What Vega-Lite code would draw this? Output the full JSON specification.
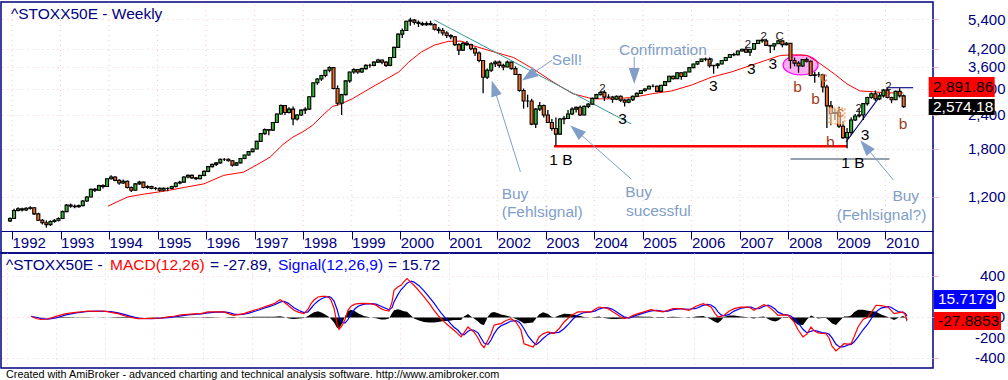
{
"$schema":"https://vega.github.io/schema/vega-lite/v6.json",
"padding":0,
"background":"#ffffff",
"spacing":0,
"bounds":"flush",
"config":{"font":"Liberation Sans","view":{"stroke":"#000080","strokeWidth":1.5},"axis":{"labelFont":"Liberation Sans","titleFont":"Liberation Sans","labelOverlap":false,"labelSeparation":0},"text":{"font":"Liberation Sans"}},
"datasets":{
"years":[{"t":1992},{"t":1993},{"t":1994},{"t":1995},{"t":1996},{"t":1997},{"t":1998},{"t":1999},{"t":2000},{"t":2001},{"t":2002},{"t":2003},{"t":2004},{"t":2005},{"t":2006},{"t":2007},{"t":2008},{"t":2009},{"t":2010}],
"px":[
{"t":1991.958,"o":980,"h":1010,"l":970,"c":1000},
{"t":1992.042,"o":1000,"h":1085,"l":995,"c":1070},
{"t":1992.125,"o":1070,"h":1100,"l":1060,"c":1085},
{"t":1992.208,"o":1085,"h":1095,"l":1060,"c":1075},
{"t":1992.292,"o":1075,"h":1100,"l":1065,"c":1090},
{"t":1992.375,"o":1090,"h":1110,"l":1080,"c":1095},
{"t":1992.458,"o":1095,"h":1100,"l":1030,"c":1040},
{"t":1992.542,"o":1040,"h":1050,"l":980,"c":985},
{"t":1992.625,"o":985,"h":995,"l":950,"c":965},
{"t":1992.708,"o":965,"h":985,"l":925,"c":950},
{"t":1992.792,"o":950,"h":985,"l":940,"c":975},
{"t":1992.875,"o":975,"h":995,"l":965,"c":985},
{"t":1992.958,"o":985,"h":1010,"l":975,"c":1000},
{"t":1993.042,"o":1000,"h":1070,"l":995,"c":1060},
{"t":1993.125,"o":1060,"h":1130,"l":1055,"c":1120},
{"t":1993.208,"o":1120,"h":1135,"l":1095,"c":1110},
{"t":1993.292,"o":1110,"h":1125,"l":1090,"c":1105},
{"t":1993.375,"o":1105,"h":1125,"l":1095,"c":1115},
{"t":1993.458,"o":1115,"h":1170,"l":1110,"c":1160},
{"t":1993.542,"o":1160,"h":1210,"l":1150,"c":1200},
{"t":1993.625,"o":1200,"h":1290,"l":1195,"c":1280},
{"t":1993.708,"o":1280,"h":1295,"l":1250,"c":1270},
{"t":1993.792,"o":1270,"h":1330,"l":1265,"c":1320},
{"t":1993.875,"o":1320,"h":1335,"l":1290,"c":1310},
{"t":1993.958,"o":1310,"h":1405,"l":1305,"c":1400},
{"t":1994.042,"o":1400,"h":1440,"l":1390,"c":1420},
{"t":1994.125,"o":1420,"h":1430,"l":1370,"c":1380},
{"t":1994.208,"o":1380,"h":1395,"l":1330,"c":1350},
{"t":1994.292,"o":1350,"h":1390,"l":1340,"c":1370},
{"t":1994.375,"o":1370,"h":1380,"l":1290,"c":1300},
{"t":1994.458,"o":1300,"h":1310,"l":1250,"c":1270},
{"t":1994.542,"o":1270,"h":1350,"l":1265,"c":1340},
{"t":1994.625,"o":1340,"h":1375,"l":1330,"c":1360},
{"t":1994.708,"o":1360,"h":1365,"l":1290,"c":1300},
{"t":1994.792,"o":1300,"h":1325,"l":1285,"c":1310},
{"t":1994.875,"o":1310,"h":1320,"l":1280,"c":1290},
{"t":1994.958,"o":1290,"h":1305,"l":1270,"c":1290},
{"t":1995.042,"o":1290,"h":1300,"l":1255,"c":1270},
{"t":1995.125,"o":1270,"h":1300,"l":1260,"c":1290},
{"t":1995.208,"o":1290,"h":1300,"l":1260,"c":1290},
{"t":1995.292,"o":1290,"h":1320,"l":1280,"c":1310},
{"t":1995.375,"o":1310,"h":1360,"l":1300,"c":1350},
{"t":1995.458,"o":1350,"h":1375,"l":1335,"c":1360},
{"t":1995.542,"o":1360,"h":1430,"l":1355,"c":1420},
{"t":1995.625,"o":1420,"h":1450,"l":1405,"c":1440},
{"t":1995.708,"o":1440,"h":1450,"l":1400,"c":1410},
{"t":1995.792,"o":1410,"h":1420,"l":1385,"c":1400},
{"t":1995.875,"o":1400,"h":1445,"l":1395,"c":1440},
{"t":1995.958,"o":1440,"h":1500,"l":1430,"c":1490},
{"t":1996.042,"o":1490,"h":1560,"l":1480,"c":1550},
{"t":1996.125,"o":1550,"h":1590,"l":1540,"c":1580},
{"t":1996.208,"o":1580,"h":1610,"l":1560,"c":1600},
{"t":1996.292,"o":1600,"h":1660,"l":1590,"c":1650},
{"t":1996.375,"o":1650,"h":1665,"l":1625,"c":1650},
{"t":1996.458,"o":1650,"h":1660,"l":1620,"c":1630},
{"t":1996.542,"o":1630,"h":1640,"l":1550,"c":1570},
{"t":1996.625,"o":1570,"h":1610,"l":1560,"c":1600},
{"t":1996.708,"o":1600,"h":1670,"l":1595,"c":1660},
{"t":1996.792,"o":1660,"h":1715,"l":1650,"c":1710},
{"t":1996.875,"o":1710,"h":1770,"l":1700,"c":1760},
{"t":1996.958,"o":1760,"h":1810,"l":1750,"c":1800},
{"t":1997.042,"o":1800,"h":1930,"l":1795,"c":1920},
{"t":1997.125,"o":1920,"h":2060,"l":1910,"c":2050},
{"t":1997.208,"o":2050,"h":2140,"l":2030,"c":2120},
{"t":1997.292,"o":2120,"h":2130,"l":2020,"c":2110},
{"t":1997.375,"o":2110,"h":2260,"l":2100,"c":2250},
{"t":1997.458,"o":2250,"h":2430,"l":2240,"c":2420},
{"t":1997.542,"o":2420,"h":2620,"l":2410,"c":2600},
{"t":1997.625,"o":2600,"h":2610,"l":2400,"c":2450},
{"t":1997.708,"o":2450,"h":2560,"l":2430,"c":2520},
{"t":1997.792,"o":2520,"h":2580,"l":2200,"c":2320},
{"t":1997.875,"o":2320,"h":2420,"l":2290,"c":2400},
{"t":1997.958,"o":2400,"h":2520,"l":2380,"c":2500},
{"t":1998.042,"o":2500,"h":2560,"l":2420,"c":2520},
{"t":1998.125,"o":2520,"h":2810,"l":2510,"c":2800},
{"t":1998.208,"o":2800,"h":3160,"l":2790,"c":3150},
{"t":1998.292,"o":3150,"h":3270,"l":3100,"c":3250},
{"t":1998.375,"o":3250,"h":3370,"l":3200,"c":3350},
{"t":1998.458,"o":3350,"h":3510,"l":3300,"c":3500},
{"t":1998.542,"o":3500,"h":3620,"l":3440,"c":3580},
{"t":1998.625,"o":3580,"h":3600,"l":2980,"c":3000},
{"t":1998.708,"o":3000,"h":3080,"l":2600,"c":2650},
{"t":1998.792,"o":2650,"h":2870,"l":2400,"c":2850},
{"t":1998.875,"o":2850,"h":3220,"l":2830,"c":3200},
{"t":1998.958,"o":3200,"h":3460,"l":3150,"c":3450},
{"t":1999.042,"o":3450,"h":3560,"l":3400,"c":3520},
{"t":1999.125,"o":3520,"h":3540,"l":3400,"c":3450},
{"t":1999.208,"o":3450,"h":3580,"l":3420,"c":3550},
{"t":1999.292,"o":3550,"h":3680,"l":3520,"c":3650},
{"t":1999.375,"o":3650,"h":3700,"l":3580,"c":3650},
{"t":1999.458,"o":3650,"h":3780,"l":3620,"c":3750},
{"t":1999.542,"o":3750,"h":3860,"l":3720,"c":3820},
{"t":1999.625,"o":3820,"h":3830,"l":3680,"c":3750},
{"t":1999.708,"o":3750,"h":3780,"l":3600,"c":3650},
{"t":1999.792,"o":3650,"h":3920,"l":3620,"c":3900},
{"t":1999.875,"o":3900,"h":4270,"l":3880,"c":4250},
{"t":1999.958,"o":4250,"h":4780,"l":4240,"c":4750},
{"t":2000.042,"o":4750,"h":4980,"l":4600,"c":4900},
{"t":2000.125,"o":4900,"h":5320,"l":4880,"c":5300},
{"t":2000.208,"o":5300,"h":5460,"l":5100,"c":5350},
{"t":2000.292,"o":5350,"h":5400,"l":5150,"c":5250},
{"t":2000.375,"o":5250,"h":5330,"l":5050,"c":5200},
{"t":2000.458,"o":5200,"h":5280,"l":5100,"c":5150},
{"t":2000.542,"o":5150,"h":5290,"l":5100,"c":5200},
{"t":2000.625,"o":5200,"h":5320,"l":5120,"c":5150},
{"t":2000.708,"o":5150,"h":5200,"l":4900,"c":4950},
{"t":2000.792,"o":4950,"h":5050,"l":4780,"c":4900},
{"t":2000.875,"o":4900,"h":5000,"l":4700,"c":4800},
{"t":2000.958,"o":4800,"h":4870,"l":4600,"c":4700},
{"t":2001.042,"o":4700,"h":4750,"l":4550,"c":4650},
{"t":2001.125,"o":4650,"h":4680,"l":4300,"c":4350},
{"t":2001.208,"o":4350,"h":4400,"l":3980,"c":4150},
{"t":2001.292,"o":4150,"h":4460,"l":4120,"c":4400},
{"t":2001.375,"o":4400,"h":4480,"l":4300,"c":4350},
{"t":2001.458,"o":4350,"h":4380,"l":4150,"c":4200},
{"t":2001.542,"o":4200,"h":4250,"l":3950,"c":4050},
{"t":2001.625,"o":4050,"h":4100,"l":3750,"c":3800},
{"t":2001.708,"o":3800,"h":3820,"l":2880,"c":3300},
{"t":2001.792,"o":3300,"h":3550,"l":3250,"c":3500},
{"t":2001.875,"o":3500,"h":3750,"l":3450,"c":3700},
{"t":2001.958,"o":3700,"h":3800,"l":3600,"c":3750},
{"t":2002.042,"o":3750,"h":3800,"l":3580,"c":3650},
{"t":2002.125,"o":3650,"h":3700,"l":3500,"c":3600},
{"t":2002.208,"o":3600,"h":3800,"l":3590,"c":3750},
{"t":2002.292,"o":3750,"h":3760,"l":3520,"c":3550},
{"t":2002.375,"o":3550,"h":3620,"l":3370,"c":3380},
{"t":2002.458,"o":3380,"h":3400,"l":2920,"c":2950},
{"t":2002.542,"o":2950,"h":3000,"l":2530,"c":2700},
{"t":2002.625,"o":2700,"h":2850,"l":2560,"c":2700},
{"t":2002.708,"o":2700,"h":2750,"l":2200,"c":2220},
{"t":2002.792,"o":2220,"h":2540,"l":2150,"c":2520},
{"t":2002.875,"o":2520,"h":2680,"l":2480,"c":2600},
{"t":2002.958,"o":2600,"h":2620,"l":2350,"c":2400},
{"t":2003.042,"o":2400,"h":2500,"l":2240,"c":2250},
{"t":2003.125,"o":2250,"h":2320,"l":2100,"c":2140},
{"t":2003.208,"o":2140,"h":2350,"l":1850,"c":2040},
{"t":2003.292,"o":2040,"h":2340,"l":2030,"c":2320},
{"t":2003.375,"o":2320,"h":2380,"l":2220,"c":2330},
{"t":2003.458,"o":2330,"h":2500,"l":2320,"c":2420},
{"t":2003.542,"o":2420,"h":2560,"l":2400,"c":2520},
{"t":2003.625,"o":2520,"h":2580,"l":2450,"c":2560},
{"t":2003.708,"o":2560,"h":2600,"l":2380,"c":2400},
{"t":2003.792,"o":2400,"h":2600,"l":2390,"c":2580},
{"t":2003.875,"o":2580,"h":2650,"l":2540,"c":2630},
{"t":2003.958,"o":2630,"h":2780,"l":2620,"c":2760},
{"t":2004.042,"o":2760,"h":2870,"l":2750,"c":2850},
{"t":2004.125,"o":2850,"h":2930,"l":2830,"c":2900},
{"t":2004.208,"o":2900,"h":2960,"l":2700,"c":2790},
{"t":2004.292,"o":2790,"h":2860,"l":2760,"c":2790},
{"t":2004.375,"o":2790,"h":2820,"l":2660,"c":2740},
{"t":2004.458,"o":2740,"h":2830,"l":2720,"c":2810},
{"t":2004.542,"o":2810,"h":2830,"l":2680,"c":2720},
{"t":2004.625,"o":2720,"h":2740,"l":2580,"c":2670},
{"t":2004.708,"o":2670,"h":2760,"l":2650,"c":2730},
{"t":2004.792,"o":2730,"h":2830,"l":2700,"c":2810},
{"t":2004.875,"o":2810,"h":2900,"l":2800,"c":2880},
{"t":2004.958,"o":2880,"h":2960,"l":2870,"c":2950},
{"t":2005.042,"o":2950,"h":3010,"l":2920,"c":2990},
{"t":2005.125,"o":2990,"h":3080,"l":2980,"c":3060},
{"t":2005.208,"o":3060,"h":3110,"l":3030,"c":3060},
{"t":2005.292,"o":3060,"h":3080,"l":2910,"c":2930},
{"t":2005.375,"o":2930,"h":3090,"l":2920,"c":3080},
{"t":2005.458,"o":3080,"h":3190,"l":3070,"c":3180},
{"t":2005.542,"o":3180,"h":3340,"l":3170,"c":3330},
{"t":2005.625,"o":3330,"h":3350,"l":3240,"c":3260},
{"t":2005.708,"o":3260,"h":3440,"l":3250,"c":3430},
{"t":2005.792,"o":3430,"h":3450,"l":3230,"c":3320},
{"t":2005.875,"o":3320,"h":3460,"l":3310,"c":3450},
{"t":2005.958,"o":3450,"h":3600,"l":3440,"c":3580},
{"t":2006.042,"o":3580,"h":3700,"l":3560,"c":3690},
{"t":2006.125,"o":3690,"h":3780,"l":3660,"c":3770},
{"t":2006.208,"o":3770,"h":3860,"l":3750,"c":3850},
{"t":2006.292,"o":3850,"h":3900,"l":3780,"c":3840},
{"t":2006.375,"o":3840,"h":3900,"l":3580,"c":3640},
{"t":2006.458,"o":3640,"h":3660,"l":3400,"c":3650},
{"t":2006.542,"o":3650,"h":3720,"l":3550,"c":3690},
{"t":2006.625,"o":3690,"h":3810,"l":3680,"c":3800},
{"t":2006.708,"o":3800,"h":3910,"l":3780,"c":3900},
{"t":2006.792,"o":3900,"h":4010,"l":3880,"c":4000},
{"t":2006.875,"o":4000,"h":4060,"l":3940,"c":3990},
{"t":2006.958,"o":3990,"h":4130,"l":3970,"c":4120},
{"t":2007.042,"o":4120,"h":4200,"l":4100,"c":4180},
{"t":2007.125,"o":4180,"h":4280,"l":4060,"c":4080},
{"t":2007.208,"o":4080,"h":4190,"l":3950,"c":4180},
{"t":2007.292,"o":4180,"h":4400,"l":4170,"c":4390},
{"t":2007.375,"o":4390,"h":4520,"l":4380,"c":4510},
{"t":2007.458,"o":4510,"h":4560,"l":4420,"c":4490},
{"t":2007.542,"o":4490,"h":4570,"l":4300,"c":4320},
{"t":2007.625,"o":4320,"h":4330,"l":4050,"c":4300},
{"t":2007.708,"o":4300,"h":4400,"l":4150,"c":4380},
{"t":2007.792,"o":4380,"h":4520,"l":4370,"c":4490},
{"t":2007.875,"o":4490,"h":4500,"l":4250,"c":4350},
{"t":2007.958,"o":4350,"h":4450,"l":4320,"c":4400},
{"t":2008.042,"o":4400,"h":4410,"l":3550,"c":3800},
{"t":2008.125,"o":3800,"h":3900,"l":3620,"c":3720},
{"t":2008.208,"o":3720,"h":3780,"l":3430,"c":3630},
{"t":2008.292,"o":3630,"h":3850,"l":3600,"c":3830},
{"t":2008.375,"o":3830,"h":3900,"l":3740,"c":3780},
{"t":2008.458,"o":3780,"h":3800,"l":3330,"c":3350},
{"t":2008.542,"o":3350,"h":3450,"l":3150,"c":3370},
{"t":2008.625,"o":3370,"h":3450,"l":3300,"c":3370},
{"t":2008.708,"o":3370,"h":3400,"l":2900,"c":3040},
{"t":2008.792,"o":3040,"h":3100,"l":2150,"c":2590},
{"t":2008.875,"o":2590,"h":2700,"l":2200,"c":2430},
{"t":2008.958,"o":2430,"h":2530,"l":2300,"c":2450},
{"t":2009.042,"o":2450,"h":2570,"l":2150,"c":2180},
{"t":2009.125,"o":2180,"h":2280,"l":1960,"c":1980},
{"t":2009.208,"o":1980,"h":2150,"l":1810,"c":2070},
{"t":2009.292,"o":2070,"h":2350,"l":2020,"c":2300},
{"t":2009.375,"o":2300,"h":2420,"l":2280,"c":2380},
{"t":2009.458,"o":2380,"h":2540,"l":2350,"c":2400},
{"t":2009.542,"o":2400,"h":2650,"l":2300,"c":2640},
{"t":2009.625,"o":2640,"h":2800,"l":2600,"c":2780},
{"t":2009.708,"o":2780,"h":2900,"l":2750,"c":2870},
{"t":2009.792,"o":2870,"h":2950,"l":2700,"c":2750},
{"t":2009.875,"o":2750,"h":2890,"l":2720,"c":2820},
{"t":2009.958,"o":2820,"h":2990,"l":2780,"c":2960},
{"t":2010.042,"o":2960,"h":3020,"l":2760,"c":2780},
{"t":2010.125,"o":2780,"h":2800,"l":2650,"c":2730},
{"t":2010.208,"o":2730,"h":2950,"l":2720,"c":2930},
{"t":2010.292,"o":2930,"h":3010,"l":2780,"c":2820},
{"t":2010.375,"o":2820,"h":2850,"l":2550,"c":2574.18}
],
"ma":[
{"t":1993.976,"p":1110},{"t":1994.384,"p":1200},{"t":1994.730,"p":1230},{"t":1995.138,"p":1260},{"t":1995.546,"p":1300},{"t":1995.953,"p":1340},{"t":1996.361,"p":1440},{"t":1996.769,"p":1480},{"t":1997.034,"p":1570},{"t":1997.319,"p":1680},{"t":1997.584,"p":1870},{"t":1997.788,"p":1990},{"t":1997.992,"p":2080},{"t":1998.196,"p":2200},{"t":1998.400,"p":2390},{"t":1998.604,"p":2580},{"t":1998.746,"p":2620},{"t":1999.011,"p":2750},{"t":1999.358,"p":2990},{"t":1999.684,"p":3230},{"t":1999.970,"p":3450},{"t":2000.174,"p":3750},{"t":2000.439,"p":4090},{"t":2000.704,"p":4330},{"t":2000.989,"p":4470},{"t":2001.254,"p":4480},{"t":2001.519,"p":4300},{"t":2001.927,"p":4090},{"t":2002.335,"p":3900},{"t":2002.742,"p":3540},{"t":2003.150,"p":3170},{"t":2003.558,"p":2870},{"t":2003.965,"p":2750},{"t":2004.373,"p":2750},{"t":2004.781,"p":2780},{"t":2005.189,"p":2870},{"t":2005.596,"p":2940},{"t":2006.004,"p":3090},{"t":2006.412,"p":3300},{"t":2006.820,"p":3450},{"t":2007.227,"p":3650},{"t":2007.574,"p":3830},{"t":2007.839,"p":3970},{"t":2008.124,"p":3990},{"t":2008.389,"p":3970},{"t":2008.655,"p":3700},{"t":2008.940,"p":3400},{"t":2009.205,"p":3120},{"t":2009.470,"p":2940},{"t":2009.755,"p":2920},{"t":2010.020,"p":2890},{"t":2010.367,"p":2891.86}
],
"arrows":[
{"name":"bf","t":2002.477,"p":1482,"t2":2001.947,"p2":2963},
{"name":"bs","t":2004.761,"p":1396,"t2":2003.660,"p2":2078},
{"name":"bq","t":2010.163,"p":1385,"t2":2009.613,"p2":1815},
{"name":"sell","t":2003.130,"p":3818,"t2":2002.681,"p2":3364},
{"name":"conf","t":2004.822,"p":3917,"t2":2004.822,"p2":3392}
],
"notes":[
{"t":2005.413,"p":4155,"text":"Confirmation","kind":"comment"},
{"t":2003.435,"p":3818,"text":"Sell!","kind":"comment"},
{"t":2002.365,"p":1235,"text":"Buy","kind":"comment"},
{"t":2002.926,"p":1056,"text":"(Fehlsignal)","kind":"comment"},
{"t":2004.913,"p":1251,"text":"Buy","kind":"comment"},
{"t":2005.321,"p":1065,"text":"sucessful","kind":"comment"},
{"t":2010.418,"p":1210,"text":"Buy","kind":"comment"},
{"t":2009.918,"p":1030,"text":"(Fehlsignal?)","kind":"comment"},
{"t":2003.313,"p":1646,"text":"1 B","kind":"wave"},
{"t":2009.327,"p":1599,"text":"1 B","kind":"wave"},
{"t":2004.583,"p":2325,"text":"3","kind":"wave"},
{"t":2006.453,"p":3065,"text":"3","kind":"wave"},
{"t":2007.234,"p":3548,"text":"3","kind":"wave"},
{"t":2007.676,"p":3701,"text":"3","kind":"wave"},
{"t":2009.578,"p":2021,"text":"3","kind":"wave"},
{"t":2008.186,"p":3039,"text":"b","kind":"b"},
{"t":2008.559,"p":2753,"text":"b","kind":"b"},
{"t":2008.865,"p":1909,"text":"b","kind":"b"},
{"t":2010.361,"p":2229,"text":"b","kind":"b"},
{"t":2008.730,"p":3307,"text":"c","kind":"c"},
{"t":2009.069,"p":2460,"text":"c","kind":"c"},
{"t":2004.169,"p":2988,"text":"2","kind":"minor"},
{"t":2006.392,"p":3723,"text":"2","kind":"minor"},
{"t":2007.166,"p":4335,"text":"2","kind":"minor"},
{"t":2007.492,"p":4638,"text":"2","kind":"minor"},
{"t":2007.819,"p":4638,"text":"C","kind":"minor"},
{"t":2009.450,"p":2524,"text":"2","kind":"minor"},
{"t":2010.061,"p":3039,"text":"2","kind":"minor"}
],
"last":[{"s":"MA","v":2891.86,"label":"2,891.86"},{"s":"Close","v":2574.18,"label":"2,574.18"}],
"mlast":[{"s":"Signal","v":15.7179,"label":"15.7179"},{"s":"MACD","v":-27.8853,"label":"-27.8853"}],
"mticks":[{"v":400,"label":"400"},{"v":200,"label":"200"},{"v":0,"label":"0"},{"v":-200,"label":"-200"},{"v":-400,"label":"-400"}],
"mtitle":[
{"t":1991.978,"v":460,"text":"^STOXX50E - ","seg":"a"},
{"t":1994.098,"v":460,"text":"MACD(12,26)","seg":"b"},
{"t":1996.137,"v":460,"text":"= -27.89,","seg":"c"},
{"t":1997.523,"v":460,"text":"Signal(12,26,9)","seg":"d"},
{"t":1999.766,"v":460,"text":"= 15.72","seg":"e"}
],
"footer":[{"t":1991.978,"v":-561,"text":"Created with AmiBroker - advanced charting and technical analysis software. http://www.amibroker.com"}],
"macd":[
{"t":1992.488,"m":12,"s":12,"h":0},{"t":1992.590,"m":-10,"s":2,"h":-3},{"t":1992.691,"m":-20,"s":-10,"h":-3},{"t":1992.834,"m":-15,"s":-17,"h":0},{"t":1992.997,"m":10,"s":-5,"h":4},{"t":1993.201,"m":37,"s":25,"h":5},{"t":1993.405,"m":50,"s":45,"h":3},{"t":1993.650,"m":63,"s":58,"h":2},{"t":1993.813,"m":60,"s":62,"h":0},{"t":1993.976,"m":63,"s":60,"h":1},
{"t":1994.119,"m":50,"s":57,"h":-3},{"t":1994.261,"m":37,"s":45,"h":-4},{"t":1994.404,"m":15,"s":28,"h":-5},{"t":1994.526,"m":0,"s":10,"h":-4},{"t":1994.669,"m":-12,"s":-5,"h":-3},{"t":1994.791,"m":-12,"s":-10,"h":-1},{"t":1994.934,"m":-8,"s":-11,"h":1},{"t":1995.138,"m":-5,"s":-7,"h":1},{"t":1995.281,"m":5,"s":-2,"h":3},{"t":1995.403,"m":12,"s":6,"h":3},
{"t":1995.546,"m":25,"s":16,"h":4},{"t":1995.688,"m":31,"s":26,"h":3},{"t":1995.811,"m":35,"s":31,"h":2},{"t":1995.953,"m":37,"s":35,"h":1},{"t":1996.096,"m":54,"s":44,"h":4},{"t":1996.259,"m":54,"s":52,"h":1},{"t":1996.422,"m":54,"s":54,"h":0},{"t":1996.524,"m":35,"s":48,"h":-5},{"t":1996.626,"m":21,"s":33,"h":-6},{"t":1996.728,"m":30,"s":27,"h":1},
{"t":1996.830,"m":37,"s":32,"h":2},{"t":1996.932,"m":55,"s":42,"h":5},{"t":1997.034,"m":70,"s":58,"h":6},{"t":1997.136,"m":85,"s":73,"h":6},{"t":1997.238,"m":102,"s":90,"h":6},{"t":1997.340,"m":118,"s":106,"h":6},{"t":1997.442,"m":135,"s":122,"h":7},{"t":1997.564,"m":174,"s":150,"h":12},{"t":1997.646,"m":150,"s":158,"h":4},{"t":1997.727,"m":119,"s":140,"h":-8},
{"t":1997.788,"m":95,"s":118,"h":-12},{"t":1997.849,"m":70,"s":95,"h":-15},{"t":1997.951,"m":50,"s":68,"h":-10},{"t":1998.053,"m":37,"s":48,"h":-6},{"t":1998.135,"m":80,"s":55,"h":15},{"t":1998.196,"m":135,"s":90,"h":35},{"t":1998.257,"m":170,"s":125,"h":50},{"t":1998.339,"m":200,"s":160,"h":60},{"t":1998.420,"m":205,"s":185,"h":45},{"t":1998.502,"m":207,"s":200,"h":25},
{"t":1998.563,"m":195,"s":203,"h":5},{"t":1998.604,"m":168,"s":195,"h":-15},{"t":1998.665,"m":90,"s":160,"h":-50},{"t":1998.726,"m":-60,"s":80,"h":-100},{"t":1998.767,"m":-115,"s":10,"h":-109},{"t":1998.828,"m":-80,"s":-45,"h":-60},{"t":1998.889,"m":-20,"s":-55,"h":10},{"t":1998.950,"m":70,"s":-20,"h":60},{"t":1999.011,"m":110,"s":35,"h":76},{"t":1999.093,"m":130,"s":85,"h":60},
{"t":1999.154,"m":135,"s":110,"h":40},{"t":1999.276,"m":138,"s":130,"h":15},{"t":1999.419,"m":135,"s":136,"h":0},{"t":1999.521,"m":120,"s":130,"h":-8},{"t":1999.623,"m":86,"s":110,"h":-20},{"t":1999.705,"m":70,"s":92,"h":-20},{"t":1999.786,"m":63,"s":75,"h":-10},{"t":1999.847,"m":150,"s":95,"h":40},{"t":1999.888,"m":265,"s":150,"h":70},{"t":1999.970,"m":300,"s":225,"h":79},
{"t":2000.031,"m":314,"s":270,"h":70},{"t":2000.092,"m":350,"s":300,"h":60},{"t":2000.153,"m":379,"s":335,"h":55},{"t":2000.235,"m":340,"s":355,"h":20},{"t":2000.296,"m":314,"s":345,"h":-10},{"t":2000.398,"m":260,"s":310,"h":-30},{"t":2000.500,"m":200,"s":260,"h":-45},{"t":2000.602,"m":140,"s":200,"h":-50},{"t":2000.704,"m":70,"s":140,"h":-50},{"t":2000.785,"m":20,"s":85,"h":-45},
{"t":2000.846,"m":-12,"s":45,"h":-40},{"t":2000.907,"m":-40,"s":10,"h":-35},{"t":2000.989,"m":-76,"s":-30,"h":-35},{"t":2001.050,"m":-100,"s":-65,"h":-30},{"t":2001.111,"m":-125,"s":-95,"h":-25},{"t":2001.193,"m":-160,"s":-125,"h":-25},{"t":2001.254,"m":-190,"s":-160,"h":-25},{"t":2001.315,"m":-150,"s":-170,"h":10},{"t":2001.397,"m":-93,"s":-135,"h":35},{"t":2001.458,"m":-120,"s":-120,"h":10},
{"t":2001.519,"m":-141,"s":-125,"h":-10},{"t":2001.601,"m":-200,"s":-150,"h":-40},{"t":2001.662,"m":-260,"s":-200,"h":-65},{"t":2001.723,"m":-295,"s":-250,"h":-73},{"t":2001.804,"m":-220,"s":-262,"h":10},{"t":2001.866,"m":-158,"s":-220,"h":45},{"t":2001.927,"m":-76,"s":-160,"h":53},{"t":2002.008,"m":-65,"s":-105,"h":40},{"t":2002.070,"m":-60,"s":-80,"h":30},{"t":2002.171,"m":-30,"s":-60,"h":20},
{"t":2002.273,"m":-12,"s":-35,"h":5},{"t":2002.375,"m":-44,"s":-30,"h":-15},{"t":2002.436,"m":-90,"s":-45,"h":-30},{"t":2002.477,"m":-125,"s":-65,"h":-40},{"t":2002.538,"m":-256,"s":-110,"h":-60},{"t":2002.620,"m":-270,"s":-180,"h":-55},{"t":2002.722,"m":-288,"s":-240,"h":-50},{"t":2002.783,"m":-250,"s":-265,"h":-10},{"t":2002.844,"m":-190,"s":-245,"h":30},{"t":2002.926,"m":-160,"s":-205,"h":50},
{"t":2003.028,"m":-141,"s":-165,"h":35},{"t":2003.089,"m":-150,"s":-150,"h":10},{"t":2003.150,"m":-158,"s":-150,"h":0},{"t":2003.252,"m":-110,"s":-145,"h":20},{"t":2003.354,"m":-44,"s":-110,"h":37},{"t":2003.456,"m":0,"s":-60,"h":35},{"t":2003.537,"m":30,"s":-15,"h":30},{"t":2003.639,"m":54,"s":25,"h":20},{"t":2003.762,"m":54,"s":48,"h":5},{"t":2003.904,"m":54,"s":54,"h":0},
{"t":2003.986,"m":80,"s":62,"h":5},{"t":2004.067,"m":102,"s":82,"h":10},{"t":2004.169,"m":95,"s":97,"h":-5},{"t":2004.251,"m":86,"s":95,"h":-10},{"t":2004.332,"m":60,"s":82,"h":-15},{"t":2004.414,"m":37,"s":58,"h":-15},{"t":2004.496,"m":10,"s":32,"h":-12},{"t":2004.577,"m":-12,"s":6,"h":-10},{"t":2004.679,"m":0,"s":-6,"h":5},{"t":2004.761,"m":20,"s":8,"h":10},
{"t":2004.863,"m":37,"s":26,"h":10},{"t":2004.985,"m":55,"s":45,"h":8},{"t":2005.128,"m":76,"s":64,"h":8},{"t":2005.250,"m":65,"s":70,"h":-5},{"t":2005.372,"m":54,"s":60,"h":-5},{"t":2005.474,"m":70,"s":62,"h":5},{"t":2005.576,"m":86,"s":76,"h":8},{"t":2005.739,"m":86,"s":85,"h":3},{"t":2005.902,"m":70,"s":80,"h":-5},{"t":2006.045,"m":110,"s":88,"h":10},
{"t":2006.188,"m":135,"s":118,"h":15},{"t":2006.269,"m":120,"s":128,"h":0},{"t":2006.351,"m":102,"s":122,"h":-20},{"t":2006.432,"m":40,"s":95,"h":-45},{"t":2006.493,"m":5,"s":55,"h":-54},{"t":2006.555,"m":10,"s":25,"h":-30},{"t":2006.616,"m":21,"s":15,"h":5},{"t":2006.718,"m":60,"s":30,"h":20},{"t":2006.820,"m":86,"s":62,"h":20},{"t":2006.962,"m":100,"s":90,"h":10},
{"t":2007.105,"m":102,"s":100,"h":2},{"t":2007.166,"m":90,"s":100,"h":-5},{"t":2007.227,"m":70,"s":90,"h":-10},{"t":2007.329,"m":100,"s":85,"h":5},{"t":2007.431,"m":125,"s":110,"h":10},{"t":2007.513,"m":110,"s":120,"h":-15},{"t":2007.574,"m":86,"s":110,"h":-30},{"t":2007.656,"m":50,"s":82,"h":-40},{"t":2007.717,"m":21,"s":52,"h":-30},{"t":2007.819,"m":25,"s":30,"h":5},
{"t":2007.921,"m":21,"s":24,"h":5},{"t":2007.982,"m":-10,"s":12,"h":-15},{"t":2008.043,"m":-44,"s":-10,"h":-40},{"t":2008.124,"m":-120,"s":-50,"h":-70},{"t":2008.226,"m":-190,"s":-115,"h":-73},{"t":2008.308,"m":-160,"s":-150,"h":-20},{"t":2008.389,"m":-93,"s":-135,"h":20},{"t":2008.451,"m":-130,"s":-125,"h":5},{"t":2008.532,"m":-151,"s":-135,"h":-10},{"t":2008.614,"m":-155,"s":-148,"h":-5},
{"t":2008.695,"m":-158,"s":-152,"h":-5},{"t":2008.756,"m":-200,"s":-162,"h":-30},{"t":2008.818,"m":-280,"s":-200,"h":-60},{"t":2008.899,"m":-327,"s":-262,"h":-73},{"t":2008.981,"m":-290,"s":-290,"h":-30},{"t":2009.062,"m":-256,"s":-285,"h":10},{"t":2009.144,"m":-260,"s":-268,"h":10},{"t":2009.205,"m":-256,"s":-262,"h":20},{"t":2009.266,"m":-190,"s":-240,"h":50},{"t":2009.348,"m":-93,"s":-190,"h":76},
{"t":2009.450,"m":-20,"s":-120,"h":76},{"t":2009.552,"m":5,"s":-60,"h":65},{"t":2009.633,"m":60,"s":0,"h":60},{"t":2009.715,"m":119,"s":55,"h":55},{"t":2009.817,"m":115,"s":92,"h":30},{"t":2009.959,"m":102,"s":105,"h":5},{"t":2010.020,"m":70,"s":100,"h":-10},{"t":2010.082,"m":37,"s":80,"h":-25},{"t":2010.163,"m":45,"s":58,"h":-5},{"t":2010.265,"m":54,"s":48,"h":15},
{"t":2010.306,"m":30,"s":40,"h":5},{"t":2010.347,"m":-27.89,"s":15.72,"h":-43.61}
]
},
"vconcat":[
{
"width":932,"height":251,
"layer":[
{"data":{"name":"years"},"mark":{"type":"rule","color":"#f2c6c6","strokeDash":[1,4]},
 "encoding":{
  "x":{"field":"t","type":"quantitative","title":null,"scale":{"domain":[1991.876,2010.876],"nice":false,"zero":false},
       "axis":{"orient":"bottom","offset":-22,"values":[1992,1993,1994,1995,1996,1997,1998,1999,2000,2001,2002,2003,2004,2005,2006,2007,2008,2009,2010],"format":"d","labelAlign":"left","labelBaseline":"top","labelDx":3,"labelPadding":-4,"labelColor":"#000080","labelFontSize":15,"tickColor":"#000080","tickSize":8,"domainColor":"#000080","grid":false,"title":null,"labelBound":false,"labelOverlap":false,"labelFlush":false,"zindex":1}},
  "y":{"datum":900,"type":"quantitative","title":null,"scale":{"type":"log","domain":[747.1,6234.5],"nice":false},
       "axis":{"orient":"right","values":[1200,1800,2400,3000,3600,4200,5400],"format":",","labelAlign":"right","labelBaseline":"middle","labelPadding":67,"labelColor":"#000080","labelFontSize":15,"tickColor":"#f0b8b8","tickSize":5,"domain":false,"grid":true,"gridColor":"#f2c6c6","gridDash":[1,4],"title":null,"labelBound":false,"labelOverlap":false,"labelFlush":false,"zindex":0}},
  "y2":{"datum":6234.5}}},
{"data":{"values":[{"t":2008.25,"p":3660}]},
 "mark":{"type":"point","shape":"M -1 0 A 1 0.571 0 1 0 1 0 A 1 0.571 0 1 0 -1 0 Z","size":1225,"filled":true,"fill":"#ff9cf5","fillOpacity":0.85,"stroke":"#ff00ff","strokeWidth":1.2,"opacity":1},
 "encoding":{"x":{"field":"t","type":"quantitative","title":null,"scale":{"domain":[1991.876,2010.876],"nice":false,"zero":false}},"y":{"field":"p","type":"quantitative","title":null,"scale":{"type":"log","domain":[747.1,6234.5],"nice":false}}}},
{"data":{"name":"ma"},"mark":{"type":"line","color":"#ff0000","strokeWidth":1},
 "encoding":{"x":{"field":"t","type":"quantitative","title":null,"scale":{"domain":[1991.876,2010.876],"nice":false,"zero":false}},"y":{"field":"p","type":"quantitative","title":null,"scale":{"type":"log","domain":[747.1,6234.5],"nice":false}}}},
{"data":{"values":[{"t":2000.704,"p":5355,"t2":2004.761,"p2":2223}]},"mark":{"type":"rule","color":"#339999","strokeWidth":1},
 "encoding":{"x":{"field":"t","type":"quantitative","title":null,"scale":{"domain":[1991.876,2010.876],"nice":false,"zero":false}},"y":{"field":"p","type":"quantitative","title":null,"scale":{"type":"log","domain":[747.1,6234.5],"nice":false}},"x2":{"field":"t2"},"y2":{"field":"p2"}}},
{"data":{"values":[{"t":2003.170,"p":1841,"t2":2009.205,"p2":1841}]},"mark":{"type":"rule","color":"#ff0000","strokeWidth":2.5},
 "encoding":{"x":{"field":"t","type":"quantitative","title":null,"scale":{"domain":[1991.876,2010.876],"nice":false,"zero":false}},"y":{"field":"p","type":"quantitative","title":null,"scale":{"type":"log","domain":[747.1,6234.5],"nice":false}},"x2":{"field":"t2"},"y2":{"field":"p2"}}},
{"data":{"values":[{"t":2008.043,"p":1654,"t2":2010.082,"p2":1654}]},"mark":{"type":"rule","color":"#708090","strokeWidth":1.3},
 "encoding":{"x":{"field":"t","type":"quantitative","title":null,"scale":{"domain":[1991.876,2010.876],"nice":false,"zero":false}},"y":{"field":"p","type":"quantitative","title":null,"scale":{"type":"log","domain":[747.1,6234.5],"nice":false}},"x2":{"field":"t2"},"y2":{"field":"p2"}}},
{"data":{"values":[{"t":2010.020,"p":3021,"t2":2010.570,"p2":3021},{"t":2009.186,"p":1909,"t2":2009.980,"p2":2960}]},"mark":{"type":"rule","color":"#000080","strokeWidth":1.1},
 "encoding":{"x":{"field":"t","type":"quantitative","title":null,"scale":{"domain":[1991.876,2010.876],"nice":false,"zero":false}},"y":{"field":"p","type":"quantitative","title":null,"scale":{"type":"log","domain":[747.1,6234.5],"nice":false}},"x2":{"field":"t2"},"y2":{"field":"p2"}}},
{"data":{"name":"px"},"mark":{"type":"rule","color":"#000000","strokeWidth":1.3},
 "encoding":{"x":{"field":"t","type":"quantitative","title":null,"scale":{"domain":[1991.876,2010.876],"nice":false,"zero":false}},"y":{"field":"l","type":"quantitative","title":null,"scale":{"type":"log","domain":[747.1,6234.5],"nice":false}},"y2":{"field":"h"}}},
{"data":{"name":"px"},"mark":{"type":"bar","size":3,"stroke":"#000000","strokeWidth":1.1},
 "encoding":{"x":{"field":"t","type":"quantitative","title":null,"scale":{"domain":[1991.876,2010.876],"nice":false,"zero":false}},"y":{"field":"o","type":"quantitative","title":null,"scale":{"type":"log","domain":[747.1,6234.5],"nice":false}},"y2":{"field":"c"},
  "color":{"condition":{"test":"datum.c >= datum.o","value":"#35b535"},"value":"#f26c2a"}}},
{"data":{"values":[{"t":2009.0,"p":2379}]},"mark":{"type":"point","shape":"square","size":250,"filled":true,"fill":"#ffe6cc","fillOpacity":0.6,"stroke":"#ffa050","strokeDash":[2,2],"strokeWidth":1.2,"opacity":1},
 "encoding":{"x":{"field":"t","type":"quantitative","title":null,"scale":{"domain":[1991.876,2010.876],"nice":false,"zero":false}},"y":{"field":"p","type":"quantitative","title":null,"scale":{"type":"log","domain":[747.1,6234.5],"nice":false}}}},
{"data":{"name":"arrows"},"mark":{"type":"rule","color":"#809ec8","strokeWidth":1},
 "encoding":{"x":{"field":"t","type":"quantitative","title":null,"scale":{"domain":[1991.876,2010.876],"nice":false,"zero":false}},"y":{"field":"p","type":"quantitative","title":null,"scale":{"type":"log","domain":[747.1,6234.5],"nice":false}},"x2":{"field":"t2"},"y2":{"field":"p2"}}},
{"data":{"name":"arrows"},"transform":[{"filter":"datum.name === 'bf'"}],"mark":{"type":"point","shape":"M 0 -1 L 0.55 0.6 L -0.55 0.6 Z","size":400,"filled":true,"color":"#809ec8","opacity":1,"angle":342.4},
 "encoding":{"x":{"field":"t2","type":"quantitative","title":null,"scale":{"domain":[1991.876,2010.876],"nice":false,"zero":false}},"y":{"field":"p2","type":"quantitative","title":null,"scale":{"type":"log","domain":[747.1,6234.5],"nice":false}}}},
{"data":{"name":"arrows"},"transform":[{"filter":"datum.name === 'bs'"}],"mark":{"type":"point","shape":"M 0 -1 L 0.55 0.6 L -0.55 0.6 Z","size":400,"filled":true,"color":"#809ec8","opacity":1,"angle":311},
 "encoding":{"x":{"field":"t2","type":"quantitative","title":null,"scale":{"domain":[1991.876,2010.876],"nice":false,"zero":false}},"y":{"field":"p2","type":"quantitative","title":null,"scale":{"type":"log","domain":[747.1,6234.5],"nice":false}}}},
{"data":{"name":"arrows"},"transform":[{"filter":"datum.name === 'bq'"}],"mark":{"type":"point","shape":"M 0 -1 L 0.55 0.6 L -0.55 0.6 Z","size":400,"filled":true,"color":"#809ec8","opacity":1,"angle":320},
 "encoding":{"x":{"field":"t2","type":"quantitative","title":null,"scale":{"domain":[1991.876,2010.876],"nice":false,"zero":false}},"y":{"field":"p2","type":"quantitative","title":null,"scale":{"type":"log","domain":[747.1,6234.5],"nice":false}}}},
{"data":{"name":"arrows"},"transform":[{"filter":"datum.name === 'sell'"}],"mark":{"type":"point","shape":"M 0 -1 L 0.55 0.6 L -0.55 0.6 Z","size":400,"filled":true,"color":"#809ec8","opacity":1,"angle":235.7},
 "encoding":{"x":{"field":"t2","type":"quantitative","title":null,"scale":{"domain":[1991.876,2010.876],"nice":false,"zero":false}},"y":{"field":"p2","type":"quantitative","title":null,"scale":{"type":"log","domain":[747.1,6234.5],"nice":false}}}},
{"data":{"name":"arrows"},"transform":[{"filter":"datum.name === 'conf'"}],"mark":{"type":"point","shape":"M 0 -1 L 0.55 0.6 L -0.55 0.6 Z","size":400,"filled":true,"color":"#809ec8","opacity":1,"angle":180},
 "encoding":{"x":{"field":"t2","type":"quantitative","title":null,"scale":{"domain":[1991.876,2010.876],"nice":false,"zero":false}},"y":{"field":"p2","type":"quantitative","title":null,"scale":{"type":"log","domain":[747.1,6234.5],"nice":false}}}},
{"data":{"name":"notes"},"transform":[{"filter":"datum.kind === 'comment'"}],"mark":{"type":"text","fontSize":15.5,"color":"#809ec8","align":"center","baseline":"middle"},
 "encoding":{"x":{"field":"t","type":"quantitative","title":null,"scale":{"domain":[1991.876,2010.876],"nice":false,"zero":false}},"y":{"field":"p","type":"quantitative","title":null,"scale":{"type":"log","domain":[747.1,6234.5],"nice":false}},"text":{"field":"text"}}},
{"data":{"name":"notes"},"transform":[{"filter":"datum.kind === 'wave'"}],"mark":{"type":"text","fontSize":15.5,"color":"#000000","align":"center","baseline":"middle"},
 "encoding":{"x":{"field":"t","type":"quantitative","title":null,"scale":{"domain":[1991.876,2010.876],"nice":false,"zero":false}},"y":{"field":"p","type":"quantitative","title":null,"scale":{"type":"log","domain":[747.1,6234.5],"nice":false}},"text":{"field":"text"}}},
{"data":{"name":"notes"},"transform":[{"filter":"datum.kind === 'b'"}],"mark":{"type":"text","fontSize":15.5,"color":"#a03c1e","align":"center","baseline":"middle"},
 "encoding":{"x":{"field":"t","type":"quantitative","title":null,"scale":{"domain":[1991.876,2010.876],"nice":false,"zero":false}},"y":{"field":"p","type":"quantitative","title":null,"scale":{"type":"log","domain":[747.1,6234.5],"nice":false}},"text":{"field":"text"}}},
{"data":{"name":"notes"},"transform":[{"filter":"datum.kind === 'c'"}],"mark":{"type":"text","fontSize":15.5,"color":"#d0703a","align":"center","baseline":"middle"},
 "encoding":{"x":{"field":"t","type":"quantitative","title":null,"scale":{"domain":[1991.876,2010.876],"nice":false,"zero":false}},"y":{"field":"p","type":"quantitative","title":null,"scale":{"type":"log","domain":[747.1,6234.5],"nice":false}},"text":{"field":"text"}}},
{"data":{"name":"notes"},"transform":[{"filter":"datum.kind === 'minor'"}],"mark":{"type":"text","fontSize":11.5,"color":"#222222","align":"center","baseline":"middle"},
 "encoding":{"x":{"field":"t","type":"quantitative","title":null,"scale":{"domain":[1991.876,2010.876],"nice":false,"zero":false}},"y":{"field":"p","type":"quantitative","title":null,"scale":{"type":"log","domain":[747.1,6234.5],"nice":false}},"text":{"field":"text"}}},
{"data":{"values":[{"t":1991.978,"p":5390,"text":"^STOXX50E - Weekly"}]},"mark":{"type":"text","fontSize":15.5,"color":"#000080","align":"left","baseline":"alphabetic"},
 "encoding":{"x":{"field":"t","type":"quantitative","title":null,"scale":{"domain":[1991.876,2010.876],"nice":false,"zero":false}},"y":{"field":"p","type":"quantitative","title":null,"scale":{"type":"log","domain":[747.1,6234.5],"nice":false}},"text":{"field":"text"}}},
{"data":{"name":"last"},"transform":[{"filter":"datum.s === 'MA'"}],"mark":{"type":"point","shape":"M -1 -0.303 L 1 -0.303 L 1 0.303 L -1 0.303 Z","size":4356,"filled":true,"color":"#ff0000","opacity":1,"yOffset":-5.9},
 "encoding":{"x":{"datum":2011.57,"type":"quantitative","title":null,"scale":{"domain":[1991.876,2010.876],"nice":false,"zero":false}},"y":{"field":"v","type":"quantitative","title":null,"scale":{"type":"log","domain":[747.1,6234.5],"nice":false}}}},
{"data":{"name":"last"},"transform":[{"filter":"datum.s === 'Close'"}],"mark":{"type":"point","shape":"M -1 -0.242 L 1 -0.242 L 1 0.242 L -1 0.242 Z","size":4356,"filled":true,"color":"#000000","opacity":1,"yOffset":0.4},
 "encoding":{"x":{"datum":2011.57,"type":"quantitative","title":null,"scale":{"domain":[1991.876,2010.876],"nice":false,"zero":false}},"y":{"field":"v","type":"quantitative","title":null,"scale":{"type":"log","domain":[747.1,6234.5],"nice":false}}}},
{"data":{"name":"last"},"transform":[{"filter":"datum.s === 'MA'"}],"mark":{"type":"text","fontSize":15.5,"color":"#000000","align":"left","baseline":"middle","yOffset":-5.9},
 "encoding":{"x":{"datum":2010.978,"type":"quantitative","title":null,"scale":{"domain":[1991.876,2010.876],"nice":false,"zero":false}},"y":{"field":"v","type":"quantitative","title":null,"scale":{"type":"log","domain":[747.1,6234.5],"nice":false}},"text":{"field":"label"}}},
{"data":{"name":"last"},"transform":[{"filter":"datum.s === 'Close'"}],"mark":{"type":"text","fontSize":15.5,"color":"#ffffff","align":"left","baseline":"middle","yOffset":0.4},
 "encoding":{"x":{"datum":2010.978,"type":"quantitative","title":null,"scale":{"domain":[1991.876,2010.876],"nice":false,"zero":false}},"y":{"field":"v","type":"quantitative","title":null,"scale":{"type":"log","domain":[747.1,6234.5],"nice":false}},"text":{"field":"label"}}}
]
},
{
"width":932,"height":115,
"layer":[
{"data":{"name":"macd"},"mark":{"type":"area","color":"#000000","interpolate":"linear"},
 "encoding":{
  "x":{"field":"t","type":"quantitative","title":null,"scale":{"domain":[1991.876,2010.876],"nice":false,"zero":false},
       "axis":{"orient":"bottom","values":[1992,1993,1994,1995,1996,1997,1998,1999,2000,2001,2002,2003,2004,2005,2006,2007,2008,2009,2010],"labels":false,"ticks":false,"domain":false,"grid":true,"gridColor":"#f2c6c6","gridDash":[1,4],"title":null,"zindex":0}},
  "y":{"field":"h","type":"quantitative","title":null,"scale":{"domain":[-493,629],"nice":false,"zero":false},
       "axis":{"orient":"right","values":[-400,-200,0,200,400],"labels":false,"tickColor":"#f0b8b8","tickSize":5,"domain":false,"grid":true,"gridColor":"#f2c6c6","gridDash":[1,4],"title":null,"zindex":0}},
  "y2":{"datum":0}}},
{"data":{"name":"macd"},"mark":{"type":"line","color":"#0000ff","strokeWidth":1.2},
 "encoding":{"x":{"field":"t","type":"quantitative","title":null,"scale":{"domain":[1991.876,2010.876],"nice":false,"zero":false}},"y":{"field":"s","type":"quantitative","title":null,"scale":{"domain":[-493,629],"nice":false,"zero":false}}}},
{"data":{"name":"macd"},"mark":{"type":"line","color":"#ff0000","strokeWidth":1.2},
 "encoding":{"x":{"field":"t","type":"quantitative","title":null,"scale":{"domain":[1991.876,2010.876],"nice":false,"zero":false}},"y":{"field":"m","type":"quantitative","title":null,"scale":{"domain":[-493,629],"nice":false,"zero":false}}}},
{"data":{"name":"mtitle"},"mark":{"type":"text","fontSize":15.5,"align":"left","baseline":"alphabetic"},
 "encoding":{"x":{"field":"t","type":"quantitative","title":null,"scale":{"domain":[1991.876,2010.876],"nice":false,"zero":false}},"y":{"field":"v","type":"quantitative","title":null,"scale":{"domain":[-493,629],"nice":false,"zero":false}},"text":{"field":"text"},
  "color":{"field":"seg","type":"nominal","scale":{"domain":["a","b","c","d","e"],"range":["#000080","#ff0000","#000080","#0000ff","#000080"]},"legend":null}}},
{"data":{"name":"footer"},"mark":{"type":"text","fontSize":10.8,"color":"#000000","align":"left","baseline":"middle"},
 "encoding":{"x":{"field":"t","type":"quantitative","title":null,"scale":{"domain":[1991.876,2010.876],"nice":false,"zero":false}},"y":{"field":"v","type":"quantitative","title":null,"scale":{"domain":[-493,629],"nice":false,"zero":false}},"text":{"field":"text"}}},
{"data":{"name":"mticks"},"mark":{"type":"text","fontSize":15,"color":"#000080","align":"right","baseline":"middle"},
 "encoding":{"x":{"datum":2012.345,"type":"quantitative","title":null,"scale":{"domain":[1991.876,2010.876],"nice":false,"zero":false}},"y":{"field":"v","type":"quantitative","title":null,"scale":{"domain":[-493,629],"nice":false,"zero":false}},"text":{"field":"label"}}},
{"data":{"name":"mlast"},"transform":[{"filter":"datum.s === 'Signal'"}],"mark":{"type":"point","shape":"M -1 -0.306 L 1 -0.306 L 1 0.306 L -1 0.306 Z","size":3844,"filled":true,"color":"#0000ff","opacity":1,"yOffset":-16.4},
 "encoding":{"x":{"datum":2011.529,"type":"quantitative","title":null,"scale":{"domain":[1991.876,2010.876],"nice":false,"zero":false}},"y":{"field":"v","type":"quantitative","title":null,"scale":{"domain":[-493,629],"nice":false,"zero":false}}}},
{"data":{"name":"mlast"},"transform":[{"filter":"datum.s === 'MACD'"}],"mark":{"type":"point","shape":"M -1 -0.269 L 1 -0.269 L 1 0.269 L -1 0.269 Z","size":4489,"filled":true,"color":"#ff0000","opacity":1,"yOffset":0.6},
 "encoding":{"x":{"datum":2011.580,"type":"quantitative","title":null,"scale":{"domain":[1991.876,2010.876],"nice":false,"zero":false}},"y":{"field":"v","type":"quantitative","title":null,"scale":{"domain":[-493,629],"nice":false,"zero":false}}}},
{"data":{"name":"mlast"},"transform":[{"filter":"datum.s === 'Signal'"}],"mark":{"type":"text","fontSize":15.5,"color":"#ffffff","align":"left","baseline":"middle","yOffset":-16.4},
 "encoding":{"x":{"datum":2010.978,"type":"quantitative","title":null,"scale":{"domain":[1991.876,2010.876],"nice":false,"zero":false}},"y":{"field":"v","type":"quantitative","title":null,"scale":{"domain":[-493,629],"nice":false,"zero":false}},"text":{"field":"label"}}},
{"data":{"name":"mlast"},"transform":[{"filter":"datum.s === 'MACD'"}],"mark":{"type":"text","fontSize":15.5,"color":"#000000","align":"left","baseline":"middle","yOffset":0.6},
 "encoding":{"x":{"datum":2010.978,"type":"quantitative","title":null,"scale":{"domain":[1991.876,2010.876],"nice":false,"zero":false}},"y":{"field":"v","type":"quantitative","title":null,"scale":{"domain":[-493,629],"nice":false,"zero":false}},"text":{"field":"label"}}}
]
}
]
}
